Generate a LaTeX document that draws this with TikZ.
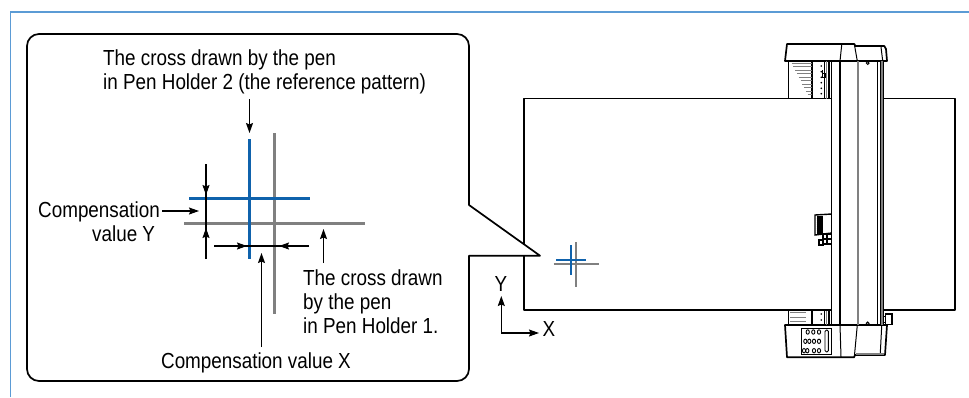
\documentclass[tikz,border=0pt]{standalone}
\usepackage{fontspec}
\setmainfont[FakeStretch=0.865]{Liberation Sans}
\usepackage{xcolor}
\usetikzlibrary{arrows.meta,positioning}
\definecolor{frameblue}{HTML}{5b9bd5}
\definecolor{penblue}{HTML}{0f62ac}
\definecolor{pengray}{HTML}{808080}

\begin{document}
\begin{tikzpicture}[x=1pt,y=-1pt,
  lab/.style={font=\fontsize{21.8}{24}\selectfont, align=left, inner sep=0pt},
  arr/.style={-{Stealth[length=10pt,width=7pt,inset=1.5pt]}, line width=1.1pt, black},
  dim/.style={line width=1.1pt, black},
  outline/.style={line width=1.7pt, black, line join=round},
  thin part/.style={line width=1pt, black},
  penb/.style={line width=2.6pt, penblue},
  peng/.style={line width=2.4pt, pengray},
  tick/.style={line width=1pt, pengray}]
  \useasboundingbox (0,0) rectangle (969,397);
  \draw[frameblue, line width=1.2pt] (10.5,397) -- (10.5,12) -- (969,12);

  % sheet
  \draw[outline, line width=1.4pt] (831.7,98.7) -- (524,98.7) -- (524,310) -- (831.7,310);
  \draw[outline, line width=1.4pt] (883,98.7) -- (955,98.7) -- (955,310) -- (883,310);

  % callout
  \draw[outline, fill=white] (469,205) [rounded corners=12pt] -- (469,34) -- (27,34) -- (27,381) -- (469,381)
    [sharp corners] -- (469,255.7) -- (540,255.7) -- cycle;

  % crosses in the callout
  \draw[peng] (274.5,133) -- (274.5,314);
  \draw[peng] (184,223.5) -- (365,223.5);
  \draw[penb] (249.5,139) -- (249.5,259);
  \draw[penb] (189,198.6) -- (310,198.6);

  % labels
  \node[lab, anchor=base west] (refLabel) at (103,89) {The cross drawn by the pen\\in Pen Holder 2 (the reference pattern)};
  \node[lab, anchor=base west] (compY) at (38,241.7) {Compensation\\\hspace*{54pt}value Y};
  \node[lab, anchor=base west] (holderLabel) at (303,333) {The cross drawn\\by the pen\\in Pen Holder 1.};
  \node[lab, anchor=base] (compX) at (256,368) {Compensation value X};
  \node[lab, anchor=base] (axisY) at (501,291) {Y};
  \node[lab, anchor=base] (axisX) at (549,336.5) {X};

  % leaders
  \coordinate (refTip) at (249.5,133);
  \coordinate (refStart) at (249.5,99);
  \coordinate (yTop) at (206,164);
  \coordinate (yUp) at (206,195);
  \coordinate (yBot) at (206,259);
  \coordinate (yDown) at (206,228);
  \coordinate (cyStart) at (162,211);
  \coordinate (cyTip) at (199,211);
  \coordinate (xLeft) at (214,246);
  \coordinate (xIn) at (247,246);
  \coordinate (xRight) at (309,246);
  \coordinate (xOut) at (279,246);
  \coordinate (cxStart) at (261.5,347);
  \coordinate (cxTip) at (261.5,253);
  \coordinate (hStart) at (323.5,263);
  \coordinate (hTip) at (323.5,229);
  \coordinate (axisO) at (501.3,333);
  \coordinate (axisYtip) at (501.3,296);
  \coordinate (axisXtip) at (539,333);
  \draw[arr] (refStart) -- (refTip);
  \draw[dim] (yTop) -- (yBot);
  \draw[arr] (yTop) -- (yUp);
  \draw[arr] (yBot) -- (yDown);
  \draw[arr] (cyStart) -- (cyTip);
  \draw[dim] (xLeft) -- (xRight);
  \draw[arr] (xLeft) -- (xIn);
  \draw[arr] (xRight) -- (xOut);
  \draw[arr] (cxStart) -- (cxTip);
  \draw[arr] (hStart) -- (hTip);
  \draw[arr] (axisO) -- (axisYtip);
  \draw[arr] (axisO) -- (axisXtip);

  % cross on the sheet
  \draw[pengray, line width=1.5pt] (576,242) -- (576,287);
  \draw[pengray, line width=1.5pt] (553.7,264) -- (598.7,264);
  \draw[penblue, line width=1.7pt] (570.7,245) -- (570.7,275);
  \draw[penblue, line width=1.9pt] (556,260.3) -- (586,260.3);

  % plotter, top cap
  \draw[outline] (785,61) -- (787,44) -- (854.3,44) -- (855.3,46) -- (884.3,46) -- (886,49) -- (887,61) -- cycle;
  \draw[thin part] (840,61) -- (841.7,45) (854.3,44) -- (857.3,61) (881,47) -- (882.7,61);
  % plotter, bottom cap
  \draw[outline] (785,325) -- (787,357.3) -- (854,357.3) -- (855,355) -- (885,355) -- (887,325) -- cycle;
  \draw[thin part] (840,325) -- (841,357) (857.3,325) -- (854.5,355) (881.7,326) -- (880.3,353);
  \draw[pengray, line width=1.5pt] (856,353.8) -- (884,353.8);
  % plotter, rail
  \draw[thin part, line width=1.2pt] (831.7,61) -- (831.7,325) (840,61) -- (840,325) (877.5,61) -- (877.5,325) (881,61) -- (881,325);
  \draw[pengray, line width=2pt] (857.5,61) -- (857.5,325);
  \draw[pengray, line width=1.8pt] (882.2,61) -- (882.2,325);
  \draw[thin part, line width=1.2pt] (883.3,61) -- (883.3,325);
  % plotter, top scale
  \draw[thin part, line width=1.2pt] (788.7,61) -- (788.7,98.7) (812,61) -- (812,98.7) (824.7,61) -- (824.7,98.7) (829,61) -- (829,98.7);
  \draw[tick] (826.7,61) -- (826.7,98.7);
  \foreach \i in {0,...,9} \draw[tick] ({791.5+\i*1.8},{63+\i*3.55}) -- (812,{63+\i*3.55});
  \foreach \yy in {66,71.7,77.3,82.7,88.3,93.7} \fill (821.3,\yy) circle[radius=0.9];
  \draw[line width=.8pt] (822,70) -- (822,77) -- (825,77) -- (825,73.5) -- (822,73.5);
  % plotter, bottom scale
  \draw[thin part, line width=1.2pt] (788.7,310) -- (788.7,325) (812,310) -- (812,325) (824.7,311) -- (824.7,325) (829,311) -- (829,325);
  \draw[tick] (826.7,311) -- (826.7,325);
  \foreach \yy in {312.5,317,321} \draw[tick] (790,\yy) -- (806,\yy);
  \foreach \yy in {314,320} \fill (821.3,\yy) circle[radius=0.9];
  % plotter, panel
  \draw[thin part, line width=1.3pt] (801.3,328.3) rectangle (831.7,354.3);
  \foreach \xx/\yy in {807.7/332,813.3/332,819/332,805.3/341.3,809.3/341.3,814/341.3,819/341.3,804/350.7,807.3/350.7,814/350.7,819/350.7}
    \draw[line width=.9pt] (\xx,\yy) ellipse[x radius=1.6, y radius=2.2];
  \draw[line width=.9pt, rounded corners=1.4pt] (825,330) rectangle (828.4,352);
  % plotter, small parts
  \draw[line width=.9pt] (867.7,63) circle[radius=1.4] (867.7,323.3) circle[radius=1.4];
  \draw[thin part, line width=1.3pt] (885.7,314) rectangle (892,324.3);
  \draw[thin part] (883,316.7) rectangle (885.7,322);
  \draw[thin part, line width=1.4pt] (831.7,214) -- (815,215) -- (815,235) -- (831.7,233);
  \foreach \i in {0,...,8} \draw[line width=1.1pt] (816.7,{217+\i*2}) -- (823.3,{217+\i*2});
  \draw[thin part, line width=1.4pt] (819,240) rectangle (823,245) (823,234) rectangle (831.7,244);
  \draw[line width=1.2pt] (827,234) -- (827,244) (823,239) -- (831.7,239);
\end{tikzpicture}
\end{document}
